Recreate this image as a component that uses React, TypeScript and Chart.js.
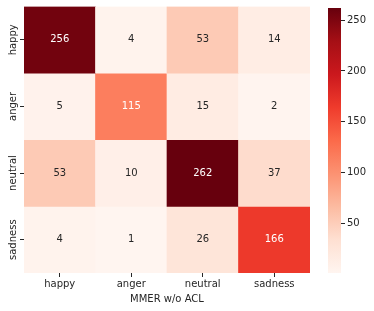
import React, { useEffect, useRef } from 'react';
import { Chart, registerables } from 'chart.js';
Chart.register(...registerables);

const colLabels = ['happy', 'anger', 'neutral', 'sadness'];
const rowLabels = ['happy', 'anger', 'neutral', 'sadness'];
const rowHappy = [256, 4, 53, 14];
const rowAnger = [5, 115, 15, 2];
const rowNeutral = [53, 10, 262, 37];
const rowSadness = [4, 1, 26, 166];
const matrix = [rowHappy, rowAnger, rowNeutral, rowSadness];
const colorbarTicks = [50, 100, 150, 200, 250];
const xTitle = 'MMER w/o ACL';
const vmin = 1;
const vmax = 262;

const REDS = ['#fff5f0', '#fee0d2', '#fcbba1', '#fc9272', '#fb6a4a', '#ef3b2c', '#cb181d', '#a50f15', '#67000d'];
const FONT = '"DejaVu Sans", sans-serif';
const DARK = '#262626';

function hexToRgb(h: string) {
  return [parseInt(h.slice(1, 3), 16), parseInt(h.slice(3, 5), 16), parseInt(h.slice(5, 7), 16)];
}
function cmapRgb(v: number) {
  let t = (v - vmin) / (vmax - vmin);
  t = Math.max(0, Math.min(1, t));
  const p = t * (REDS.length - 1);
  const i = Math.min(Math.floor(p), REDS.length - 2);
  const f = p - i;
  const a = hexToRgb(REDS[i]);
  const b = hexToRgb(REDS[i + 1]);
  return [0, 1, 2].map((k) => Math.round(a[k] + (b[k] - a[k]) * f));
}
function cmap(v: number) {
  const c = cmapRgb(v);
  return `rgb(${c[0]},${c[1]},${c[2]})`;
}
function textColor(v: number) {
  const c = cmapRgb(v).map((x) => {
    const s = x / 255;
    return s <= 0.03928 ? s / 12.92 : Math.pow((s + 0.055) / 1.055, 2.4);
  });
  const lum = 0.2126 * c[0] + 0.7152 * c[1] + 0.0722 * c[2];
  return lum > 0.408 ? DARK : '#ffffff';
}

const annotPlugin = {
  id: 'annot',
  afterDatasetsDraw(chart: any) {
    const ctx = chart.ctx;
    ctx.save();
    ctx.font = `10px ${FONT}`;
    ctx.textAlign = 'center';
    ctx.textBaseline = 'middle';
    chart.data.datasets.forEach((ds: any, i: number) => {
      const meta = chart.getDatasetMeta(i);
      meta.data.forEach((el: any, j: number) => {
        const v = matrix[i][j];
        const { x, y, base } = el.getProps(['x', 'y', 'base'], true);
        ctx.fillStyle = textColor(v);
        ctx.fillText(String(v), x, (y + base) / 2);
      });
    });
    ctx.restore();
  },
};

const yLabelPlugin = {
  id: 'ylabels',
  afterDraw(chart: any) {
    const s = chart.scales.y;
    const ctx = chart.ctx;
    ctx.save();
    ctx.font = `10px ${FONT}`;
    ctx.fillStyle = DARK;
    ctx.textAlign = 'center';
    ctx.textBaseline = 'middle';
    s.ticks.forEach((t: any, i: number) => {
      const y = s.getPixelForTick(i);
      ctx.save();
      ctx.translate(s.right - 11, y);
      ctx.rotate(-Math.PI / 2);
      ctx.fillText(String(t.label), 0, 0);
      ctx.restore();
    });
    ctx.restore();
  },
};

const gradientPlugin = {
  id: 'cbar',
  beforeDatasetsDraw(chart: any) {
    const { ctx, chartArea } = chart;
    const s = chart.scales.y;
    const y0 = s.getPixelForValue(vmin);
    const y1 = s.getPixelForValue(vmax);
    const g = ctx.createLinearGradient(0, y0, 0, y1);
    REDS.forEach((c, i) => g.addColorStop(i / (REDS.length - 1), c));
    ctx.save();
    ctx.fillStyle = g;
    ctx.fillRect(chartArea.left, chartArea.top, chartArea.right - chartArea.left, chartArea.bottom - chartArea.top);
    ctx.restore();
  },
};

export default function App() {
  const mainRef = useRef<HTMLCanvasElement>(null);
  const cbRef = useRef<HTMLCanvasElement>(null);

  useEffect(() => {
    Chart.defaults.font.family = FONT;
    Chart.defaults.font.size = 10;
    Chart.defaults.color = DARK;

    const datasets = matrix.map((row, i) => ({
      label: rowLabels[i],
      data: row.map(() => [i, i + 1]),
      backgroundColor: row.map((v) => cmap(v)),
      borderWidth: 0,
      barPercentage: 1,
      categoryPercentage: 1,
      grouped: false,
    }));

    const main = new Chart(mainRef.current!, {
      type: 'bar',
      data: { labels: colLabels, datasets: datasets as any },
      options: {
        responsive: false,
        animation: false,
        devicePixelRatio: 1,
        layout: { padding: { top: 6.5, left: 0, right: 64, bottom: 0 } },
        plugins: { legend: { display: false }, tooltip: { enabled: false } },
        scales: {
          x: {
            offset: true,
            border: { display: false },
            grid: { offset: false, drawOnChartArea: false, drawTicks: true, tickLength: 4, color: DARK },
            ticks: { padding: 1, color: DARK, font: { size: 10, family: FONT } },
            title: { display: true, text: xTitle, color: DARK, font: { size: 10, family: FONT }, padding: { top: 0, bottom: 6 } },
            afterFit: (s: any) => { s.height = 38; },
          },
          y: {
            type: 'linear',
            min: 0,
            max: 4,
            reverse: true,
            border: { display: false },
            grid: { drawOnChartArea: false, drawTicks: true, tickLength: 4, color: DARK },
            ticks: { display: false, callback: (v: any) => rowLabels[Math.floor(Number(v))] },
            afterBuildTicks: (s: any) => {
              s.ticks = rowLabels.map((_, i) => ({ value: i + 0.5, label: rowLabels[i] }));
            },
            afterTickToLabelConversion: (s: any) => {
              s.ticks.forEach((t: any, i: number) => { t.label = rowLabels[i]; });
            },
            afterFit: (s: any) => { s.width = 24; },
          } as any,
        },
      },
      plugins: [annotPlugin, yLabelPlugin],
    });

    const cb = new Chart(cbRef.current!, {
      type: 'bar',
      data: { labels: [''], datasets: [] },
      options: {
        responsive: false,
        animation: false,
        devicePixelRatio: 1,
        layout: { padding: { top: 6.5, left: 328, right: 0, bottom: 38 } },
        plugins: { legend: { display: false }, tooltip: { enabled: false } },
        scales: {
          x: { display: false },
          y: {
            type: 'linear',
            position: 'right',
            min: vmin,
            max: vmax,
            border: { display: false },
            grid: { drawOnChartArea: false, drawTicks: true, tickLength: 4, color: DARK },
            ticks: { padding: 2, color: DARK, font: { size: 10, family: FONT } },
            afterBuildTicks: (s: any) => {
              s.ticks = colorbarTicks.map((v) => ({ value: v }));
            },
            afterFit: (s: any) => { s.width = 33; },
          } as any,
        },
      },
      plugins: [gradientPlugin],
    });

    return () => {
      main.destroy();
      cb.destroy();
    };
  }, []);

  return (
    <div style={{ position: 'absolute', left: 0, top: 0, width: 374, height: 311, background: '#ffffff' }}>
      <canvas ref={mainRef} width={374} height={311} style={{ position: 'absolute', left: 0, top: 0 }} />
      <canvas ref={cbRef} width={374} height={311} style={{ position: 'absolute', left: 0, top: 0, pointerEvents: 'none' }} />
    </div>
  );
}
